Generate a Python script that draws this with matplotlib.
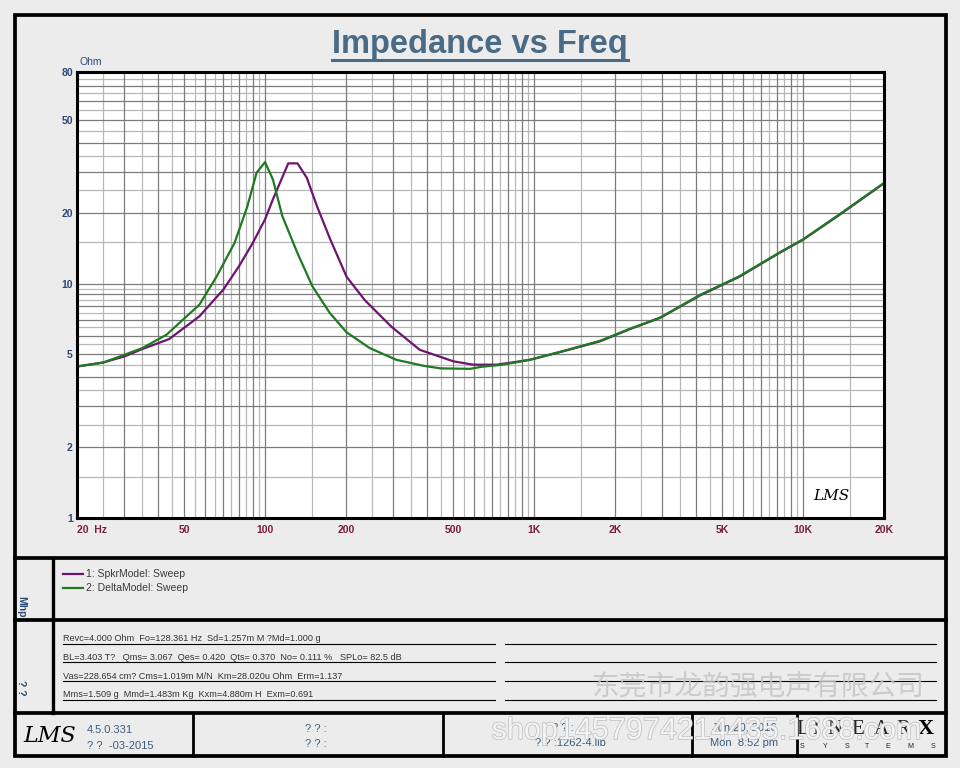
import matplotlib
matplotlib.use("Agg")
import matplotlib.pyplot as plt
from matplotlib.patches import Rectangle
from matplotlib import patheffects

# impedance curves (Hz, Ohm)
spkr_freq = [20, 25, 30, 35, 44, 57, 70, 80, 90, 100, 107, 115, 122, 132, 143,
             156, 175, 201, 235, 295, 376, 502, 594, 727, 862, 966, 1278, 1758,
             2274, 2940, 4140, 5800, 8150, 10000, 13700, 20000]
spkr_ohm = [4.43, 4.61, 4.89, 5.26, 5.80, 7.25, 9.43, 11.86, 14.9, 18.8, 22.9,
            27.8, 32.6, 32.6, 28.3, 21.4, 15.4, 10.7, 8.5, 6.55, 5.22, 4.66,
            4.51, 4.51, 4.64, 4.73, 5.14, 5.67, 6.40, 7.14, 8.9, 10.7, 13.5,
            15.4, 19.7, 26.8]

delta_freq = [20, 25, 35, 43, 57, 66, 77, 86, 93, 100, 107, 116, 132, 150, 174,
              201, 245, 308, 389, 449, 578, 640, 750, 862, 966, 1278, 1758,
              2274, 2940, 4140, 5800, 8150, 10000, 13700, 20000]
delta_ohm = [4.43, 4.60, 5.31, 6.05, 8.13, 10.7, 14.9, 21.4, 29.7, 33.0, 27.8,
             19.4, 13.5, 9.74, 7.50, 6.20, 5.31, 4.73, 4.46, 4.35, 4.33, 4.42,
             4.50, 4.62, 4.74, 5.15, 5.70, 6.42, 7.16, 8.95, 10.75, 13.55, 15.45,
             19.8, 26.9]

x_tick_vals = [20, 50, 100, 200, 500, 1000, 2000, 5000, 10000, 20000]
x_tick_labels = ["20  Hz", "50", "100", "200", "500", "1K", "2K", "5K", "10K", "20K"]
y_tick_vals = [1, 2, 5, 10, 20, 50, 80]
y_tick_labels = ["1", "2", "5", "10", "20", "50", "80"]

legend_labels = ["1: SpkrModel: Sweep", "2: DeltaModel: Sweep"]
param_lines = [
    "Revc=4.000 Ohm  Fo=128.361 Hz  Sd=1.257m M ?Md=1.000 g",
    "BL=3.403 T?   Qms= 3.067  Qes= 0.420  Qts= 0.370  No= 0.111 %   SPLo= 82.5 dB",
    "Vas=228.654 cm? Cms=1.019m M/N  Km=28.020u Ohm  Erm=1.137",
    "Mms=1.509 g  Mmd=1.483m Kg  Kxm=4.880m H  Exm=0.691",
]

PURPLE = "#6c1670"
GREEN = "#1f7a22"
BG = "#ececec"
BLUE = "#2b4a78"
MAROON = "#7b1d3f"

plt.rcParams["font.family"] = ["Liberation Sans", "DejaVu Sans"]


def grid_values(lo, hi):
    # LMS style grid: darker lines at 1..9 x decade, lighter at the halves
    major, minor = [], []
    d = 1
    while d <= hi:
        major += [m * d for m in range(1, 10)]
        minor += [1.5 * d] + [(m + 0.5) * d for m in range(2, 10)]
        d *= 10
    major = [v for v in major if lo <= v <= hi]
    minor = [v for v in minor if lo <= v <= hi]
    return major, minor


fig = plt.figure(figsize=(9.6, 7.68), dpi=100)
fig.patch.set_facecolor(BG)

# overlay in pixel coordinates for the panels around the plot
over = fig.add_axes([0, 0, 1, 1], zorder=0)
over.set_xlim(0, 960)
over.set_ylim(768, 0)
over.axis("off")

# plot area
ax = fig.add_axes([77 / 960, 1 - 518 / 768, (884 - 77) / 960, (518 - 72) / 768], zorder=2)
ax.set_xscale("log")
ax.set_yscale("log")
ax.set_xlim(20, 20000)
ax.set_ylim(1, 80)
ax.set_facecolor("white")

xmaj, xmin = grid_values(20, 20000)
ymaj, ymin = grid_values(1, 80)
for v in xmin:
    ax.axvline(v, color="#b8b8b8", lw=0.9, zorder=1)
for v in ymin:
    ax.axhline(v, color="#b8b8b8", lw=0.9, zorder=1)
for v in xmaj:
    ax.axvline(v, color="#7c7c7c", lw=0.9, zorder=1)
for v in ymaj:
    ax.axhline(v, color="#7c7c7c", lw=0.9, zorder=1)

ax.plot(spkr_freq, spkr_ohm, color=PURPLE, lw=1.6, zorder=3)
ax.plot(delta_freq, delta_ohm, color=GREEN, lw=1.6, zorder=4)

ax.set_xticks(x_tick_vals, x_tick_labels)
ax.set_yticks(y_tick_vals, y_tick_labels)
ax.minorticks_off()
ax.tick_params(axis="x", length=0, pad=5, labelsize=7.5, labelcolor=MAROON)
ax.tick_params(axis="y", length=0, pad=3, labelsize=7.5, labelcolor=BLUE)
for lab in ax.get_xticklabels() + ax.get_yticklabels():
    lab.set_fontweight("bold")
ax.get_xticklabels()[0].set_ha("left")
ax.get_xticklabels()[0].set_x(19.2)
for side in ax.spines.values():
    side.set_linewidth(2.2)
    side.set_color("black")
    side.set_zorder(5)

ax.text(0.935, 0.05, "LMS", transform=ax.transAxes, fontsize=11, fontstyle="italic",
        family="DejaVu Serif", color="black", ha="center", va="center", zorder=6)

# title with underline
title = over.text(480, 44, "Impedance vs Freq", ha="center", va="center", fontsize=23.5,
                  fontweight="bold", color="#4a6b86")
fig.canvas.draw()
bb = title.get_window_extent().transformed(over.transData.inverted())
over.plot([bb.x0, bb.x1], [59.5, 59.5], color="#4a6b86", lw=2.2)
over.text(80, 62, "Ohm", fontsize=7.5, color=BLUE, va="center")

# frame and panel separators
over.add_patch(Rectangle((14.5, 14.5), 931.5, 741, fill=False, lw=2.7, ec="black"))
for yy in [557.5, 619.5, 713]:
    over.plot([14.5, 946], [yy, yy], color="black", lw=2.7)
over.plot([53, 53], [557.5, 713], color="black", lw=2.4)
for xx in [193, 443, 692, 797]:
    over.plot([xx, xx], [713, 755.5], color="black", lw=2.0)

over.text(21, 607, "Mhp", rotation=270, fontsize=7.5, fontweight="bold", color=BLUE,
          ha="center", va="center")
over.text(21, 688, "? ?", rotation=270, fontsize=7.5, fontweight="bold", color=BLUE,
          ha="center", va="center")

# legend panel
for i, (lab, col) in enumerate(zip(legend_labels, [PURPLE, GREEN])):
    yy = 574 + 14 * i
    over.plot([63, 83], [yy, yy], color=col, lw=1.6)
    over.text(86, yy, lab, fontsize=7.5, color="#3a3a3a", va="center")

# parameters panel
for i, line in enumerate(param_lines):
    yy = 643.5 + 18.8 * i
    over.plot([63, 495], [yy, yy], color="black", lw=0.8)
    over.plot([505, 936], [yy, yy], color="black", lw=0.8)
    over.text(63, yy - 2.5, line, fontsize=6.6, color="#333333", va="baseline")

over.text(758, 687, "东莞市龙韵强电声有限公司", fontsize=20, color="#c6c6c6", alpha=0.85,
          ha="center", va="center", family=["Noto Sans CJK SC", "DejaVu Sans"], zorder=3)

# footer
over.text(50, 736, "LMS", fontsize=16, fontstyle="italic", family="DejaVu Serif",
          color="black", ha="center", va="center")
over.text(87, 730, "4.5.0.331", fontsize=8, color="#3d5c7c", va="center")
over.text(87, 746, "? ?  -03-2015", fontsize=8, color="#3d5c7c", va="center")
over.text(316, 729, "? ? :", fontsize=8, color="#3d5c7c", ha="center", va="center")
over.text(316, 744, "? ? :", fontsize=8, color="#3d5c7c", ha="center", va="center")
over.text(563, 728, "? ? :", fontsize=8, color="#3d5c7c", ha="center", va="center")
over.text(570, 743, "? ? :1262-4.lib", fontsize=8, color="#3d5c7c", ha="center", va="center")
over.text(744, 728, "Jun 20, 2016", fontsize=8, color="#3d5c7c", ha="center", va="center")
over.text(744, 743, "Mon  8:52 pm", fontsize=8, color="#3d5c7c", ha="center", va="center")
for xx, ch in zip([803, 816, 835, 858, 881, 903], "LINEAR"):
    over.text(xx, 729, ch, fontsize=15, family="Liberation Serif", color="#222222",
              ha="center", va="center")
over.text(926, 729, "X", fontsize=16, fontweight="bold", family="Liberation Serif",
          color="black", ha="center", va="center")
for xx, ch in zip([802, 825, 847, 867, 888, 910, 933], "SYSTEMS"):
    over.text(xx, 747, ch, fontsize=5, color="#222222", ha="center", va="center")

wm = over.text(706, 731, "shop1457974214435.1688.com", fontsize=22, color="#f6f6f6",
               alpha=0.9, ha="center", va="center", zorder=4)
wm.set_path_effects([patheffects.withStroke(linewidth=1.0, foreground="#b9b9b9")])

fig.savefig("out.png", dpi=100, facecolor=fig.get_facecolor())
